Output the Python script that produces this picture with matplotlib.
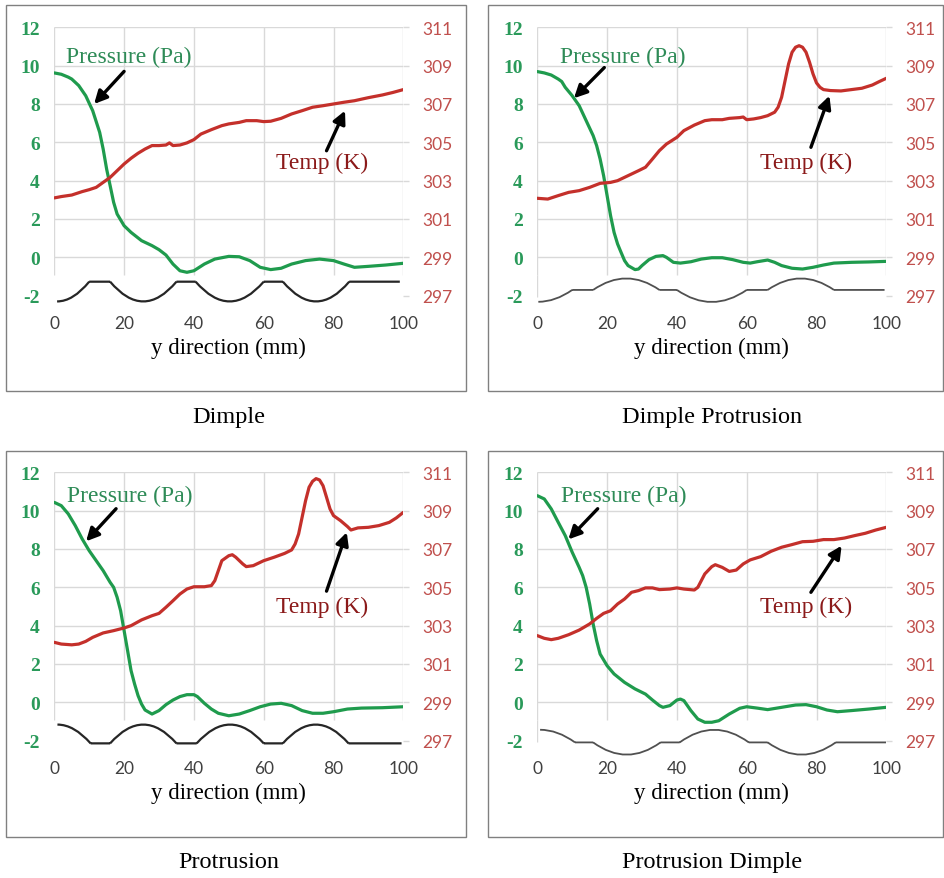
import matplotlib.pyplot as plt
from matplotlib.patches import Rectangle, PathPatch
from matplotlib.path import Path

SERIF = 'Liberation Serif'
SANS = 'Lato'

# ---- data ----
titles = ['Dimple', 'Dimple Protrusion', 'Protrusion', 'Protrusion Dimple']

# Dimple
p1_x = [0, 2, 4, 5, 7, 9, 11, 13, 14, 15, 16, 17, 18, 20, 22, 25, 28, 30, 32, 34, 36, 38, 40, 43, 46, 50, 53, 56, 59, 62, 65, 68, 72, 76, 80, 83, 86, 90, 95, 100]
p1_y = [9.62, 9.55, 9.4, 9.3, 8.96, 8.43, 7.65, 6.52, 5.65, 4.6, 3.74, 2.87, 2.26, 1.65, 1.3, 0.87, 0.61, 0.4, 0.12, -0.35, -0.7, -0.78, -0.7, -0.35, -0.09, 0.05, 0.03, -0.17, -0.52, -0.64, -0.57, -0.35, -0.17, -0.09, -0.17, -0.35, -0.52, -0.47, -0.4, -0.31]
t1_x = [0, 2, 5, 8, 10, 12, 14, 16, 18, 20, 22, 24, 26, 28, 30, 32, 33, 34, 36, 38, 40, 42, 45, 48, 50, 53, 55, 58, 60, 62, 65, 68, 71, 74, 77, 80, 83, 86, 90, 94, 97, 100]
t1_y = [302.1, 302.17, 302.25, 302.43, 302.53, 302.65, 302.91, 303.17, 303.52, 303.87, 304.17, 304.43, 304.65, 304.83, 304.83, 304.86, 304.97, 304.83, 304.86, 304.97, 305.14, 305.43, 305.66, 305.87, 305.96, 306.04, 306.13, 306.13, 306.08, 306.1, 306.25, 306.48, 306.65, 306.83, 306.91, 307.0, 307.09, 307.17, 307.33, 307.47, 307.6, 307.75]

# Dimple Protrusion
p2_x = [0, 2, 4, 6, 7, 8, 10, 12, 14, 16, 17, 18, 19, 20, 21, 22, 23, 24, 25, 26, 28, 29, 30, 32, 34, 36, 37, 39, 41, 44, 47, 50, 53, 56, 59, 61, 63, 66, 68, 70, 73, 76, 79, 82, 85, 90, 95, 100]
p2_y = [9.69, 9.62, 9.51, 9.3, 9.17, 8.87, 8.43, 7.91, 7.13, 6.35, 5.83, 5.13, 4.26, 3.22, 2.17, 1.3, 0.7, 0.26, -0.17, -0.43, -0.64, -0.61, -0.43, -0.12, 0.05, 0.09, 0.0, -0.26, -0.3, -0.23, -0.09, -0.02, -0.02, -0.12, -0.26, -0.3, -0.23, -0.14, -0.26, -0.43, -0.57, -0.61, -0.52, -0.4, -0.3, -0.26, -0.24, -0.21]
t2_x = [0, 3, 6, 9, 12, 15, 18, 21, 23, 26, 29, 31, 33, 35, 37, 40, 42, 45, 48, 50, 53, 55, 58, 59, 60, 62, 64, 66, 68, 69, 70, 71, 72, 73, 74, 75, 76, 77, 78, 79, 80, 81, 82, 84, 87, 90, 93, 96, 98, 100]
t2_y = [302.08, 302.04, 302.22, 302.39, 302.48, 302.65, 302.86, 302.91, 303.0, 303.26, 303.52, 303.7, 304.13, 304.57, 304.91, 305.26, 305.61, 305.9, 306.13, 306.18, 306.18, 306.25, 306.29, 306.32, 306.18, 306.22, 306.29, 306.39, 306.57, 306.83, 307.35, 308.22, 309.09, 309.7, 309.96, 310.04, 309.96, 309.7, 309.18, 308.57, 308.1, 307.87, 307.75, 307.7, 307.68, 307.75, 307.82, 307.99, 308.17, 308.34]

# Protrusion
p3_x = [0, 2, 4, 6, 8, 10, 12, 14, 16, 17, 18, 19, 20, 21, 22, 23, 24, 25, 26, 28, 30, 32, 34, 36, 38, 40, 41, 43, 45, 47, 50, 53, 56, 59, 62, 65, 68, 71, 74, 77, 80, 84, 88, 94, 100]
p3_y = [10.43, 10.26, 9.83, 9.22, 8.52, 7.91, 7.39, 6.87, 6.26, 6.0, 5.48, 4.78, 3.74, 2.7, 1.65, 0.96, 0.35, -0.09, -0.4, -0.61, -0.43, -0.12, 0.12, 0.3, 0.4, 0.4, 0.3, -0.05, -0.35, -0.57, -0.7, -0.61, -0.43, -0.23, -0.09, -0.05, -0.17, -0.43, -0.57, -0.57, -0.49, -0.35, -0.3, -0.28, -0.23]
t3_x = [0, 2, 5, 7, 9, 11, 14, 17, 20, 22, 25, 28, 30, 32, 34, 36, 38, 40, 43, 45, 46, 47, 48, 50, 51, 52, 54, 55, 57, 60, 63, 66, 68, 69, 70, 71, 72, 73, 74, 75, 76, 77, 78, 79, 80, 82, 84, 85, 87, 90, 93, 96, 98, 100]
t3_y = [302.13, 302.04, 302.0, 302.04, 302.18, 302.39, 302.62, 302.74, 302.88, 303.0, 303.3, 303.52, 303.64, 303.96, 304.3, 304.65, 304.91, 305.03, 305.03, 305.09, 305.35, 305.87, 306.39, 306.65, 306.7, 306.57, 306.22, 306.08, 306.13, 306.39, 306.57, 306.77, 306.95, 307.26, 307.78, 308.65, 309.52, 310.22, 310.53, 310.67, 310.6, 310.3, 309.7, 309.09, 308.74, 308.48, 308.17, 307.99, 308.1, 308.13, 308.22, 308.39, 308.62, 308.91]

# Protrusion Dimple
p4_x = [0, 2, 4, 6, 8, 10, 12, 13, 14, 15, 16, 17, 18, 20, 22, 25, 28, 31, 33, 35, 36, 38, 40, 41, 42, 44, 46, 48, 50, 52, 55, 58, 60, 63, 66, 70, 74, 77, 80, 83, 86, 90, 95, 100]
p4_y = [10.78, 10.61, 10.09, 9.39, 8.7, 7.83, 7.04, 6.61, 6.0, 5.13, 4.09, 3.22, 2.52, 1.91, 1.48, 1.04, 0.7, 0.43, 0.12, -0.17, -0.26, -0.17, 0.12, 0.17, 0.09, -0.43, -0.87, -1.04, -1.04, -0.96, -0.61, -0.31, -0.23, -0.3, -0.38, -0.26, -0.14, -0.12, -0.23, -0.4, -0.49, -0.43, -0.35, -0.26]
t4_x = [0, 2, 4, 6, 9, 12, 15, 17, 19, 21, 23, 25, 27, 29, 31, 33, 35, 38, 40, 42, 45, 46, 47, 48, 50, 51, 53, 55, 57, 59, 61, 64, 67, 70, 73, 76, 79, 82, 85, 88, 91, 94, 97, 100]
t4_y = [302.48, 302.34, 302.27, 302.34, 302.53, 302.77, 303.09, 303.38, 303.64, 303.78, 304.13, 304.39, 304.74, 304.83, 304.97, 304.97, 304.88, 304.91, 304.97, 304.91, 304.86, 305.0, 305.35, 305.7, 306.08, 306.18, 306.04, 305.83, 305.9, 306.22, 306.43, 306.6, 306.88, 307.09, 307.23, 307.38, 307.4, 307.49, 307.49, 307.57, 307.7, 307.82, 307.99, 308.13]

# geometry sketch under each chart: (x_start, x_end, base level, extreme level, kind)
# kind: 'flat', 'arc' (full arc, extreme in the middle), 'half' (extreme at start)
g1 = [(0.8, 10, -2.3, -1.27, 'half'), (10, 16, -1.27, 0, 'flat'), (16, 35, -1.27, -2.3, 'arc'),
      (35, 40.5, -1.27, 0, 'flat'), (40.5, 60, -1.27, -2.3, 'arc'), (60, 65.5, -1.27, 0, 'flat'),
      (65.5, 84.5, -1.27, -2.3, 'arc'), (84.5, 99, -1.27, 0, 'flat')]
g2 = [(0.3, 10, -2.32, -1.7, 'half'), (10, 16, -1.7, 0, 'flat'), (16, 35, -1.7, -1.1, 'arc'),
      (35, 40, -1.7, 0, 'flat'), (40, 60, -1.7, -2.33, 'arc'), (60, 66, -1.7, 0, 'flat'),
      (66, 85, -1.7, -1.1, 'arc'), (85, 99.5, -1.7, 0, 'flat')]
g3 = [(0.9, 10.4, -1.16, -2.14, 'half'), (10.4, 16, -2.14, 0, 'flat'), (16, 35, -2.14, -1.16, 'arc'),
      (35, 40.8, -2.14, 0, 'flat'), (40.8, 60, -2.14, -1.16, 'arc'), (60, 65.5, -2.14, 0, 'flat'),
      (65.5, 84.3, -2.14, -1.16, 'arc'), (84.3, 99.5, -2.14, 0, 'flat')]
g4 = [(0.8, 10.8, -1.43, -2.09, 'half'), (10.8, 16, -2.09, 0, 'flat'), (16, 35.3, -2.09, -2.73, 'arc'),
      (35.3, 40.8, -2.09, 0, 'flat'), (40.8, 60.6, -2.09, -1.43, 'arc'), (60.6, 66, -2.09, 0, 'flat'),
      (66, 85.5, -2.09, -2.73, 'arc'), (85.5, 100, -2.09, 0, 'flat')]

# annotation anchors in pressure-axis units: label, arrow tail, arrow head
p_label = [(3.3, 10.2), (6.5, 10.2), (3.5, 10.5), (6.8, 10.5)]
p_arrow = [((20, 9.7), (11.4, 8.0)), ((19.2, 9.9), (10.5, 8.3)), ((17.7, 10.1), (9.1, 8.4)), ((17.3, 10.1), (8.9, 8.5))]
t_label = [(76.6, 4.95), (77, 4.95), (76.6, 5.0), (77, 5.0)]
t_arrow = [((78, 5.56), (83.3, 7.65)), ((78.4, 5.74), (83.7, 8.43)), ((78, 5.8), (83.8, 8.87)), ((78.4, 5.74), (87.2, 8.17))]

left_ticks = [-2, 0, 2, 4, 6, 8, 10, 12]
right_ticks = [297, 299, 301, 303, 305, 307, 309, 311]
x_ticks = [0, 20, 40, 60, 80, 100]

press_x = [p1_x, p2_x, p3_x, p4_x]
press_y = [p1_y, p2_y, p3_y, p4_y]
temp_x = [t1_x, t2_x, t3_x, t4_x]
temp_y = [t1_y, t2_y, t3_y, t4_y]
geoms = [g1, g2, g3, g4]
geo_color = ['#262626', '#505050', '#262626', '#505050']
geo_lw = [1.6, 1.3, 1.6, 1.3]

GREEN = '#1f9b4d'
GREEN_TXT = '#2e8b57'
GREEN_TICK = '#2a9a5a'
RED = '#c4302b'
RED_TXT = '#8b1a1a'
RED_TICK = '#c0504d'
GRID = '#d9d9d9'

W, H = 944, 879
fig = plt.figure(figsize=(W / 100, H / 100), dpi=100)

ax_left = [54.3, 537.3]
ax_top = [28.3, 473.3]
box_x = [(6, 466), (488, 943)]
box_y = [(6, 392), (452, 838)]
cap_y = [418, 863]
px_w = 349
y_bot = -2.9
px_h = (12 - y_bot) * 19.17


def geo_path(segs):
    verts, codes = [], []
    for x0, x1, a, b, kind in segs:
        if kind == 'flat':
            pts, cd = [(x0, a), (x1, a)], [Path.MOVETO, Path.LINETO]
        elif kind == 'half':
            pts, cd = [(x0, a), ((x0 + x1) / 2, a), (x1, b)], [Path.MOVETO, Path.CURVE3, Path.CURVE3]
        else:
            pts, cd = [(x0, a), ((x0 + x1) / 2, 2 * b - a), (x1, a)], [Path.MOVETO, Path.CURVE3, Path.CURVE3]
        verts += pts
        codes += cd
    return Path(verts, codes)


arrow_style = dict(arrowstyle='-|>', color='black', lw=2.4, mutation_scale=19, shrinkA=0, shrinkB=0)

for i in range(4):
    r, c = divmod(i, 2)
    left, top = ax_left[c], ax_top[r]
    ax = fig.add_axes([left / W, 1 - (top + px_h) / H, px_w / W, px_h / H])
    ax.set_xlim(0, 100)
    ax.set_ylim(y_bot, 12)
    for s in ax.spines.values():
        s.set_visible(False)

    # excel-like grid, stopped above the geometry sketch
    ax.vlines(x_ticks, -0.9, 12, color=GRID, lw=1, zorder=0)
    if c == 1:
        ax.vlines(0, -2.05, -0.9, color=GRID, lw=1, zorder=0)
    ax.hlines(left_ticks[1:], 0, 101.5, color=GRID, lw=1, zorder=0)

    ax.plot(press_x[i], press_y[i], color=GREEN, lw=2.3, zorder=3, solid_capstyle='round')
    ax.add_patch(PathPatch(geo_path(geoms[i]), fill=False, ec=geo_color[i], lw=geo_lw[i], zorder=2))

    ax.set_xticks(x_ticks, [str(v) for v in x_ticks], fontfamily=SANS, fontsize=12.5, color='#404040')
    ax.set_yticks(left_ticks, [str(v) for v in left_ticks], fontfamily=SERIF, fontweight='bold',
                  fontsize=14, color=GREEN_TICK)
    ax.tick_params(axis='x', length=0, pad=1.5)
    ax.tick_params(axis='y', length=0, pad=10.5)

    ax2 = ax.twinx()
    ax2.set_ylim(297 + (y_bot + 2), 311)
    for s in ax2.spines.values():
        s.set_visible(False)
    ax2.plot(temp_x[i], temp_y[i], color=RED, lw=2.3, zorder=3, solid_capstyle='round')
    ax2.set_yticks(right_ticks, [str(v) for v in right_ticks], fontfamily=SANS, fontsize=12.5,
                   color=RED_TICK)
    ax2.tick_params(axis='y', length=4, width=1, color=GRID, pad=9.5)

    def to_t(pt):
        return (pt[0], pt[1] + 299)

    ax2.text(*to_t(p_label[i]), 'Pressure (Pa)', fontfamily=SERIF, fontsize=17, color=GREEN_TXT,
             ha='left', va='baseline', zorder=5)
    ax2.annotate('', xy=to_t(p_arrow[i][1]), xytext=to_t(p_arrow[i][0]), arrowprops=arrow_style, zorder=5)
    ax2.text(*to_t(t_label[i]), 'Temp (K)', fontfamily=SERIF, fontsize=17, color=RED_TXT,
             ha='center', va='center', zorder=5)
    ax2.annotate('', xy=to_t(t_arrow[i][1]), xytext=to_t(t_arrow[i][0]), arrowprops=arrow_style, zorder=5)

    ax.text(0.5, -0.119, 'y direction (mm)', transform=ax.transAxes, fontfamily=SERIF,
            fontsize=16.5, ha='center', va='center')

    bx0, bx1 = box_x[c]
    by0, by1 = box_y[r]
    fig.add_artist(Rectangle((bx0 / W, 1 - by1 / H), (bx1 - bx0) / W, (by1 - by0) / H,
                             transform=fig.transFigure, fill=False, ec='#808080', lw=1))
    fig.text((left + px_w / 2) / W, 1 - cap_y[r] / H, titles[i], fontfamily=SERIF, fontsize=17.5,
             ha='center', va='center')

fig.savefig('out.png', dpi=100)
